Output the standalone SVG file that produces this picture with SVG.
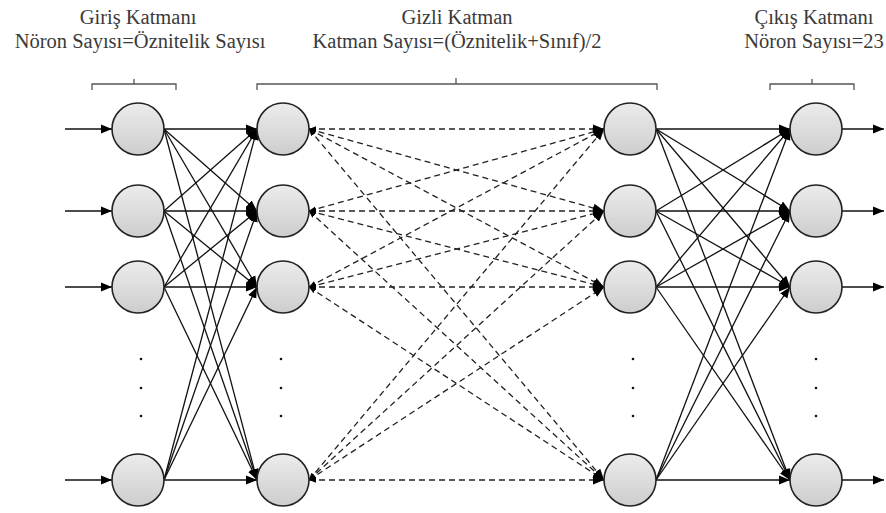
<svg xmlns="http://www.w3.org/2000/svg" width="886" height="513" viewBox="0 0 886 513">
<style>
.t{font-family:'Liberation Serif','Times New Roman','DejaVu Serif',serif;font-size:20.5px;fill:#3a3a3a;text-anchor:middle}
.br{fill:none;stroke:#555;stroke-width:1.3}
.node{fill:url(#g);stroke:#222;stroke-width:1.6}
.s{stroke:#111;stroke-width:1.3;fill:none;marker-end:url(#ah)}
.d{stroke:#222;stroke-width:1.3;fill:none;stroke-dasharray:6 4;marker-end:url(#ah);marker-start:url(#as)}
.dot{fill:#111}
</style>
<defs>
<linearGradient id="g" x1="0" y1="0" x2="0" y2="1">
<stop offset="0" stop-color="#ececec"/>
<stop offset="1" stop-color="#cdcdcd"/>
</linearGradient>
<marker id="ah" viewBox="0 0 10 10" refX="10" refY="5" markerWidth="11" markerHeight="11" markerUnits="userSpaceOnUse" orient="auto">
<path d="M0,1 L10,5 L0,9 z" fill="#000"/>
</marker>
<marker id="as" viewBox="0 0 10 10" refX="0" refY="5" markerWidth="7" markerHeight="7" markerUnits="userSpaceOnUse" orient="auto">
<path d="M10,1 L0,5 L10,9 z" fill="#000"/>
</marker>
</defs>
<g id="labels" font-family="Liberation Serif, Times New Roman, serif">
<text class="t" x="138" y="24">Giriş Katmanı</text>
<text class="t" x="140" y="48">Nöron Sayısı=Öznitelik Sayısı</text>
<text class="t" x="457" y="24">Gizli Katman</text>
<text class="t" x="457" y="48">Katman Sayısı=(Öznitelik+Sınıf)/2</text>
<text class="t" x="814" y="24">Çıkış Katmanı</text>
<text class="t" x="814" y="48">Nöron Sayısı=23</text>
</g>
<g id="brackets">
<path class="br" d="M92,90 V84 H176 V90 M134,84 V79"/>
<path class="br" d="M257,90 V84 H657 V90 M456,84 V78"/>
<path class="br" d="M770,90 V84 H854 V90 M812,84 V79"/>
</g>
<g id="connectors">
<line class="s" x1="65" y1="129" x2="112" y2="129"/>
<line class="s" x1="65" y1="211" x2="112" y2="211"/>
<line class="s" x1="65" y1="287" x2="112" y2="287"/>
<line class="s" x1="65" y1="480" x2="112" y2="480"/>
<line class="s" x1="164" y1="129" x2="257" y2="129"/>
<line class="s" x1="164" y1="129" x2="257" y2="211"/>
<line class="s" x1="164" y1="129" x2="257" y2="287"/>
<line class="s" x1="164" y1="129" x2="257" y2="480"/>
<line class="s" x1="164" y1="211" x2="257" y2="129"/>
<line class="s" x1="164" y1="211" x2="257" y2="211"/>
<line class="s" x1="164" y1="211" x2="257" y2="287"/>
<line class="s" x1="164" y1="211" x2="257" y2="480"/>
<line class="s" x1="164" y1="287" x2="257" y2="129"/>
<line class="s" x1="164" y1="287" x2="257" y2="211"/>
<line class="s" x1="164" y1="287" x2="257" y2="287"/>
<line class="s" x1="164" y1="287" x2="257" y2="480"/>
<line class="s" x1="164" y1="480" x2="257" y2="129"/>
<line class="s" x1="164" y1="480" x2="257" y2="211"/>
<line class="s" x1="164" y1="480" x2="257" y2="287"/>
<line class="s" x1="164" y1="480" x2="257" y2="480"/>
<line class="d" x1="309" y1="129" x2="604" y2="129"/>
<line class="d" x1="309" y1="129" x2="604" y2="211"/>
<line class="d" x1="309" y1="129" x2="604" y2="287"/>
<line class="d" x1="309" y1="129" x2="604" y2="480"/>
<line class="d" x1="309" y1="211" x2="604" y2="129"/>
<line class="d" x1="309" y1="211" x2="604" y2="211"/>
<line class="d" x1="309" y1="211" x2="604" y2="287"/>
<line class="d" x1="309" y1="211" x2="604" y2="480"/>
<line class="d" x1="309" y1="287" x2="604" y2="129"/>
<line class="d" x1="309" y1="287" x2="604" y2="211"/>
<line class="d" x1="309" y1="287" x2="604" y2="287"/>
<line class="d" x1="309" y1="287" x2="604" y2="480"/>
<line class="d" x1="309" y1="480" x2="604" y2="129"/>
<line class="d" x1="309" y1="480" x2="604" y2="211"/>
<line class="d" x1="309" y1="480" x2="604" y2="287"/>
<line class="d" x1="309" y1="480" x2="604" y2="480"/>
<line class="s" x1="656" y1="129" x2="790" y2="129"/>
<line class="s" x1="656" y1="129" x2="790" y2="211"/>
<line class="s" x1="656" y1="129" x2="790" y2="287"/>
<line class="s" x1="656" y1="129" x2="790" y2="480"/>
<line class="s" x1="656" y1="211" x2="790" y2="129"/>
<line class="s" x1="656" y1="211" x2="790" y2="211"/>
<line class="s" x1="656" y1="211" x2="790" y2="287"/>
<line class="s" x1="656" y1="211" x2="790" y2="480"/>
<line class="s" x1="656" y1="287" x2="790" y2="129"/>
<line class="s" x1="656" y1="287" x2="790" y2="211"/>
<line class="s" x1="656" y1="287" x2="790" y2="287"/>
<line class="s" x1="656" y1="287" x2="790" y2="480"/>
<line class="s" x1="656" y1="480" x2="790" y2="129"/>
<line class="s" x1="656" y1="480" x2="790" y2="211"/>
<line class="s" x1="656" y1="480" x2="790" y2="287"/>
<line class="s" x1="656" y1="480" x2="790" y2="480"/>
<line class="s" x1="842" y1="129" x2="884" y2="129"/>
<line class="s" x1="842" y1="211" x2="884" y2="211"/>
<line class="s" x1="842" y1="287" x2="884" y2="287"/>
<line class="s" x1="842" y1="480" x2="884" y2="480"/>
</g>
<g id="input-1"><circle class="node" cx="138" cy="129" r="26"/></g>
<g id="input-2"><circle class="node" cx="138" cy="211" r="26"/></g>
<g id="input-3"><circle class="node" cx="138" cy="287" r="26"/></g>
<g id="input-n"><circle class="node" cx="138" cy="480" r="26"/></g>
<g id="hidden1-1"><circle class="node" cx="283" cy="129" r="26"/></g>
<g id="hidden1-2"><circle class="node" cx="283" cy="211" r="26"/></g>
<g id="hidden1-3"><circle class="node" cx="283" cy="287" r="26"/></g>
<g id="hidden1-n"><circle class="node" cx="283" cy="480" r="26"/></g>
<g id="hidden2-1"><circle class="node" cx="630" cy="129" r="26"/></g>
<g id="hidden2-2"><circle class="node" cx="630" cy="211" r="26"/></g>
<g id="hidden2-3"><circle class="node" cx="630" cy="287" r="26"/></g>
<g id="hidden2-n"><circle class="node" cx="630" cy="480" r="26"/></g>
<g id="output-1"><circle class="node" cx="816" cy="129" r="26"/></g>
<g id="output-2"><circle class="node" cx="816" cy="211" r="26"/></g>
<g id="output-3"><circle class="node" cx="816" cy="287" r="26"/></g>
<g id="output-n"><circle class="node" cx="816" cy="480" r="26"/></g>
<g id="ellipsis">
<circle class="dot" cx="141" cy="359" r="1.3"/><circle class="dot" cx="141" cy="388" r="1.3"/><circle class="dot" cx="141" cy="416" r="1.3"/>
<circle class="dot" cx="281" cy="359" r="1.3"/><circle class="dot" cx="281" cy="388" r="1.3"/><circle class="dot" cx="281" cy="416" r="1.3"/>
<circle class="dot" cx="633" cy="359" r="1.3"/><circle class="dot" cx="633" cy="388" r="1.3"/><circle class="dot" cx="633" cy="416" r="1.3"/>
<circle class="dot" cx="816" cy="359" r="1.3"/><circle class="dot" cx="816" cy="388" r="1.3"/><circle class="dot" cx="816" cy="416" r="1.3"/>
</g>
</svg>
